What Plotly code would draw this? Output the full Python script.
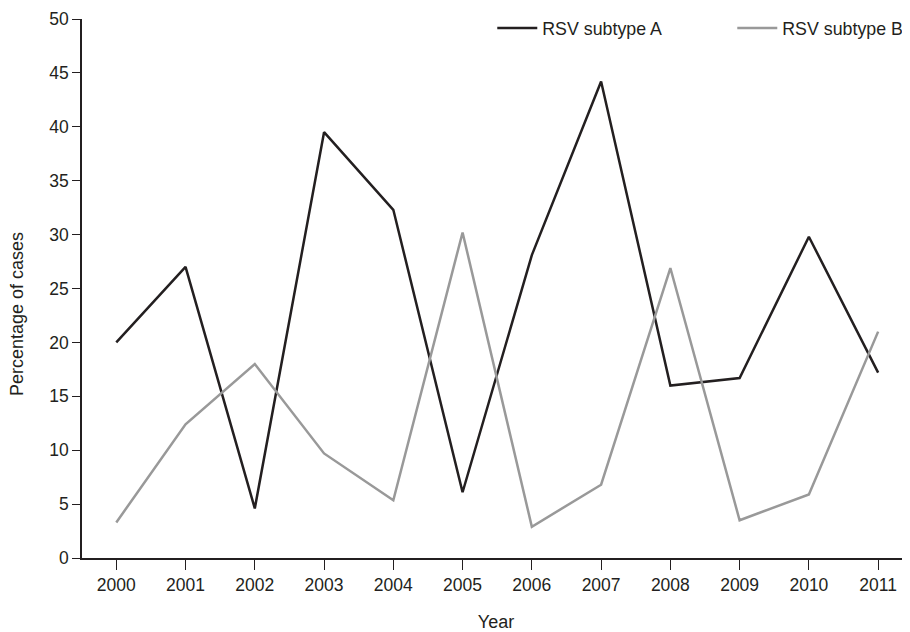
import plotly.graph_objects as go

years = [2000, 2001, 2002, 2003, 2004, 2005, 2006, 2007, 2008, 2009, 2010, 2011]
subtype_a = [20.0, 27.0, 4.6, 39.5, 32.3, 6.1, 28.1, 44.2, 16.0, 16.7, 29.8, 17.2]
subtype_b = [3.3, 12.4, 18.0, 9.7, 5.35, 30.2, 2.9, 6.8, 26.9, 3.5, 5.9, 21.0]
y_ticks = [0, 5, 10, 15, 20, 25, 30, 35, 40, 45, 50]

FONT = "Liberation Sans, Arial, sans-serif"

fig = go.Figure()
fig.add_trace(go.Scatter(x=years, y=subtype_a, mode="lines", name="RSV subtype A",
                         line=dict(color="#231f20", width=2.5)))
fig.add_trace(go.Scatter(x=years, y=subtype_b, mode="lines", name="RSV subtype B",
                         line=dict(color="#999999", width=2.5)))

# page body has an 8px default margin, so the figure is sized 8px smaller
fig.update_layout(
    width=902, height=624,
    margin=dict(l=74, r=0, t=11, b=74, autoexpand=False),
    paper_bgcolor="white", plot_bgcolor="white",
    font=dict(family=FONT, size=17.5, color="#231f20"),
    showlegend=True,
    legend=dict(orientation="h", x=0.4955, xanchor="left", y=1.017, yanchor="top",
                font=dict(size=17.8), bgcolor="rgba(0,0,0,0)", itemwidth=40,
                entrywidth=185, entrywidthmode="pixels",
                traceorder="normal"),
    xaxis=dict(range=[1999.505, 2011.46], tickmode="array", tickvals=years,
               ticktext=[str(y) for y in years], showgrid=False, zeroline=False,
               showline=True, linecolor="#231f20", linewidth=1.5, automargin=False,
               ticks="outside", ticklen=10, tickwidth=1, tickcolor="#231f20",
               title=dict(text="Year", standoff=22, font=dict(size=18))),
    yaxis=dict(range=[0, 50], tickmode="array", tickvals=y_ticks, showgrid=False,
               zeroline=False, showline=True, linecolor="#231f20", linewidth=1.5,
               automargin=False,
               ticks="outside", ticklen=8, tickwidth=1, tickcolor="#231f20"),
    annotations=[dict(text="Percentage of cases", textangle=-90, showarrow=False,
                      xref="paper", yref="paper", x=-0.0785, xanchor="center",
                      y=0.4527, yanchor="middle", font=dict(size=18))],
)

fig.write_html("out.html")
